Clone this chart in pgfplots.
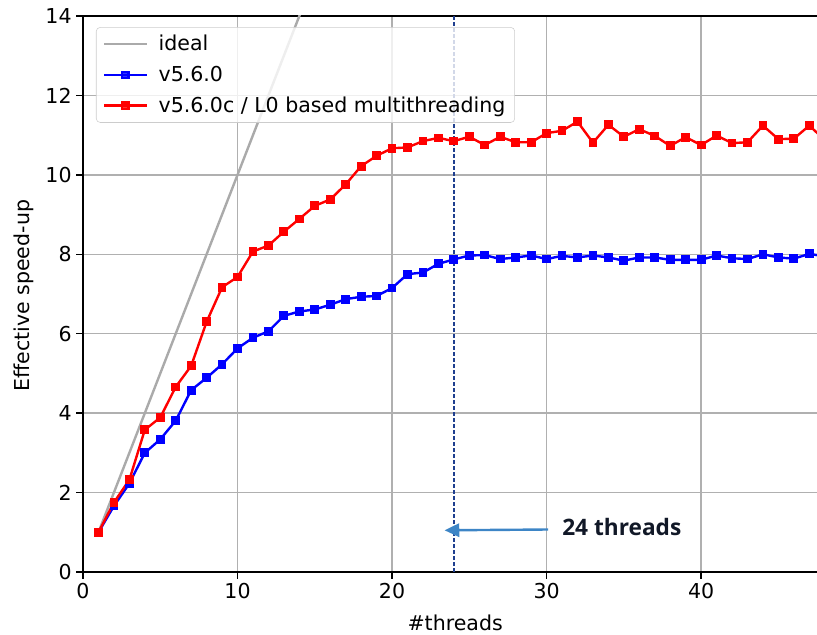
\documentclass[border=0pt]{standalone}
\usepackage{pgfplots}
\pgfplotsset{compat=1.18}
\usepackage{pgfplotstable}
\usetikzlibrary{arrows.meta}
\usepackage{fontspec}
\setmainfont{DejaVu Sans}
\newfontfamily\annfont{Open Sans}
\definecolor{gridc}{HTML}{B0B0B0}
\definecolor{idealc}{HTML}{AAAAAA}
\definecolor{vline}{HTML}{1F3F8F}
\definecolor{arrowc}{HTML}{3D85C6}
\definecolor{anntext}{HTML}{111827}
\definecolor{legc}{HTML}{CCCCCC}

\pgfplotstableread{
x y
1 1.00
2 1.66
3 2.23
4 3.00
5 3.34
6 3.81
7 4.58
8 4.89
9 5.23
10 5.63
11 5.90
12 6.06
13 6.45
14 6.56
15 6.61
16 6.73
17 6.87
18 6.93
19 6.95
20 7.15
21 7.50
22 7.54
23 7.76
24 7.87
25 7.97
26 7.98
27 7.88
28 7.92
29 7.97
30 7.88
31 7.96
32 7.92
33 7.97
34 7.92
35 7.84
36 7.92
37 7.92
38 7.86
39 7.86
40 7.86
41 7.97
42 7.90
43 7.88
44 8.00
45 7.92
46 7.89
47 8.01
48 7.95
}\bluedata

\pgfplotstableread{
x y
1 1.00
2 1.75
3 2.32
4 3.58
5 3.89
6 4.66
7 5.19
8 6.30
9 7.17
10 7.43
11 8.07
12 8.22
13 8.57
14 8.89
15 9.22
16 9.38
17 9.76
18 10.22
19 10.48
20 10.67
21 10.69
22 10.85
23 10.93
24 10.85
25 10.96
26 10.75
27 10.96
28 10.82
29 10.82
30 11.05
31 11.11
32 11.34
33 10.81
34 11.26
35 10.96
36 11.15
37 10.98
38 10.73
39 10.95
40 10.75
41 10.99
42 10.80
43 10.82
44 11.24
45 10.90
46 10.91
47 11.24
48 10.88
}\reddata

\begin{document}
\begin{tikzpicture}[font=\fontsize{15.4}{18.5}\selectfont]
\begin{axis}[
  name=ax,
  scale only axis,
  width=550.5pt, height=417pt,
  xmin=0, xmax=47.5, ymin=0, ymax=14,
  axis x line=box, axis y line=left,
  axis line style={-, black, line width=1pt},
  xtick={0,10,20,30,40}, ytick={0,2,...,14},
  xtick pos=bottom, ytick pos=left,
  tick align=outside,
  major tick length=5pt,
  every tick/.style={black, line width=1pt},
  tick label style={font=\fontsize{15.4}{18.5}\selectfont},
  /pgf/number format/assume math mode=true,
  grid=major,
  major grid style={gridc, line width=1pt},
  xlabel={\#threads},
  ylabel={Effective speed-up},
  xlabel style={at={(axis description cs:0.507,-0.106)}, anchor=base},
  ylabel style={at={(axis description cs:-0.081,0.497)}, anchor=center},
  legend style={at={(axis description cs:0.0177,0.980)}, anchor=north west,
    draw=legc, rounded corners=3pt, fill=white, fill opacity=0.8, text opacity=1,
    font=\fontsize{15.4}{18.5}\selectfont, row sep=6pt, column sep=6pt,
    inner xsep=5pt, inner ysep=4pt},
  legend cell align=left,
  legend image code/.code={\draw[mark repeat=2,mark phase=2,#1] plot coordinates {(0pt,0pt) (16pt,0pt) (32pt,0pt)};},
  clip=true,
]
\addplot[idealc, line width=1.8pt] coordinates {(1,1) (48,48)};
\addlegendentry{ideal}
\addplot[blue, line width=1.8pt, mark=square*, mark size=2.4pt, mark options={solid}] table[x=x,y=y] {\bluedata};
\addlegendentry{v5.6.0}
\addplot[red, line width=1.8pt, mark=square*, mark size=2.4pt, mark options={solid}] table[x=x,y=y] {\reddata};
\addlegendentry{v5.6.0c / L0 based multithreading}
\addplot[vline, line width=1pt, dash pattern=on 3pt off 1.5pt, forget plot] coordinates {(24,0) (24,14)};
\draw[arrowc, line width=1.8pt, -{Triangle[length=11pt,width=10pt]}] (axis cs:30.1,1.07) -- (axis cs:23.4,1.05);
\node[anchor=base west, inner sep=0pt, text=anntext, font=\annfont\bfseries\fontsize{17}{20}\selectfont] at (axis cs:31.0,0.915) {24 threads};
\end{axis}
\pgfresetboundingbox
\path[use as bounding box] ([xshift=-62.25pt,yshift=-47.25pt]ax.south west) rectangle ([yshift=12pt]ax.north east);
\end{tikzpicture}
\end{document}
